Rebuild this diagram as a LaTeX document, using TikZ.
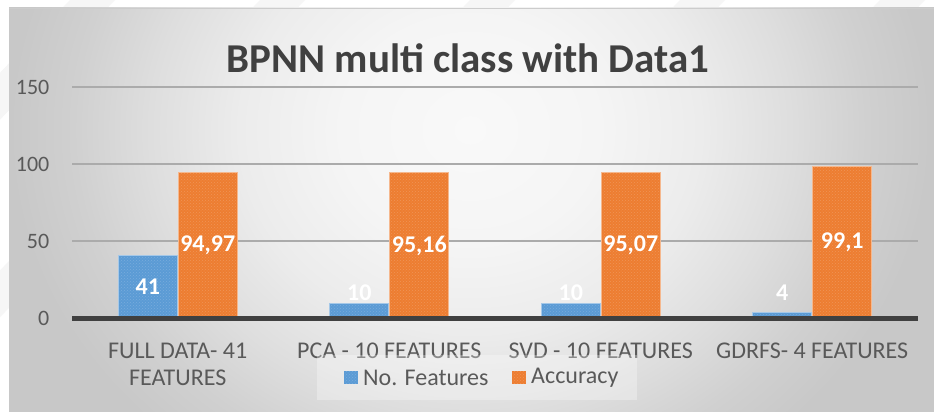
\documentclass[tikz,border=0pt]{standalone}
\usepackage{fontspec}
\setmainfont{Carlito}
\usetikzlibrary{patterns}

\definecolor{txtgray}{HTML}{595959}
\definecolor{titlegray}{HTML}{404040}
\definecolor{gridgray}{HTML}{ABABAB}
\definecolor{axisgray}{HTML}{404040}
\definecolor{barblue}{HTML}{5B9BD5}
\definecolor{barorange}{HTML}{ED7D31}
\definecolor{bga}{HTML}{F9F9F9}
\definecolor{bgb}{HTML}{F5F5F5}
\definecolor{bgc}{HTML}{ECECEC}
\definecolor{bgd}{HTML}{DEDEDE}
\definecolor{bge}{HTML}{D0D0D0}
\definecolor{bgf}{HTML}{C8C8C8}

% soft radial background: bright centre, darker rim
\pgfdeclareradialshading{chartbg}{\pgfpoint{0bp}{0bp}}{%
  color(0bp)=(bga); color(5bp)=(bgb); color(9bp)=(bgc);
  color(12.5bp)=(bgd); color(15.5bp)=(bge); color(18bp)=(bgf); color(50bp)=(bgf)}

\tikzset{
  ticklabel/.style={anchor=east, text=txtgray, font=\fontsize{22}{24}\selectfont, inner sep=0pt},
  catlabel/.style={anchor=base, text=txtgray, font=\fontsize{24}{26}\selectfont, inner sep=0pt},
  legendlabel/.style={anchor=west, text=txtgray, font=\fontsize{24}{26}\selectfont, inner sep=0pt},
  vallabel/.style={text=white, font=\fontsize{24}{26}\selectfont\bfseries, inner sep=0pt},
  gridline/.style={draw=gridgray, line width=2pt},
  texture/.style={pattern=crosshatch dots, pattern color=white, opacity=0.18},
}

\begin{document}
\begin{tikzpicture}[x=1pt, y=-1pt]
  \useasboundingbox (0,0) rectangle (934,412);
  \fill[white] (0,0) rectangle (934,412);

  % faint diagonal bands in the white margin
  \begin{scope}
    \clip (0,0) -- (934,0) -- (934,8) -- (9,8) -- (9,412) -- (0,412) -- cycle;
    \foreach \s in {70,260,470,680,880}
      \fill[gray!7] (\s,0) -- (\s+45,0) -- (\s-455,520) -- (\s-500,520) -- cycle;
  \end{scope}

  % chart area with radial background, centred near the title
  \begin{scope}
    \clip (9,8) rectangle (934,412);
    \shade[shading=chartbg] (-170,-434) rectangle (1110,694);
  \end{scope}
  \draw[gray!40, line width=1pt] (9,8.5) -- (934,8.5);

  % title
  \node[anchor=base, text=titlegray, inner sep=0pt,
        font=\fontsize{41}{44}\selectfont\bfseries] (title) at (468,73) {BPNN multi class with Data1};

  % grid lines and value axis labels
  \foreach \y in {241.35, 164.2, 87.05}
    \draw[gridline] (72,\y) -- (918,\y);
  \node[ticklabel] (t150) at (49.5,87.05) {150};
  \node[ticklabel] (t100) at (49.5,164.2) {100};
  \node[ticklabel] (t50) at (49.5,241.35) {50};
  \node[ticklabel] (t0) at (49.5,318.5) {0};

  % bars: value v has height v*1.543
  \foreach \c/\b/\o in {177.75/41/94.97, 389.25/10/95.16, 600.75/10/95.07, 812.25/4/99.1} {
    \fill[barblue] (\c-60,318.5) rectangle (\c,318.5-\b*1.543);
    \fill[texture] (\c-60,318.5) rectangle (\c,318.5-\b*1.543);
    \draw[barblue!55!white, line width=0.8pt] (\c-59.6,318.5) -- (\c-59.6,318.9-\b*1.543) -- (\c-0.4,318.9-\b*1.543) -- (\c-0.4,318.5);
    \fill[barorange] (\c,318.5) rectangle (\c+60,318.5-\o*1.543);
    \fill[texture] (\c,318.5) rectangle (\c+60,318.5-\o*1.543);
    \draw[barorange!55!white, line width=0.8pt] (\c+0.4,318.5) -- (\c+0.4,318.9-\o*1.543) -- (\c+59.6,318.9-\o*1.543) -- (\c+59.6,318.5);
  }

  % category axis
  \draw[axisgray, line width=4.3pt] (72,318.5) -- (918,318.5);

  % data labels
  \node[vallabel] (v1a) at (147.75,287) {41};
  \node[vallabel] (v1b) at (207.75,245.5) {94,97};
  \node[vallabel] (v2a) at (359.25,293) {10};
  \node[vallabel] (v2b) at (419.25,245.5) {95,16};
  \node[vallabel] (v3a) at (570.75,293) {10};
  \node[vallabel] (v3b) at (630.75,245.5) {95,07};
  \node[vallabel] (v4a) at (782.25,293) {4};
  \node[vallabel] (v4b) at (842.25,242) {99,1};

  % category labels
  \node[catlabel] (c1a) at (177.75,358) {FULL DATA- 41};
  \node[catlabel] (c1b) at (177.75,385) {FEATURES};
  \node[catlabel] (c2) at (389.25,358) {PCA - 10 FEATURES};
  \node[catlabel] (c3) at (600.75,358) {SVD - 10 FEATURES};
  \node[catlabel] (c4) at (812.25,358) {GDRFS- 4 FEATURES};

  % legend
  \fill[white, opacity=0.3] (317,355) rectangle (637,400);
  \fill[barblue] (344,371) rectangle (358,384);
  \fill[texture] (344,371) rectangle (358,384);
  \node[legendlabel] (lg1) at (363,377.5) {No. Features};
  \fill[barorange] (512,371) rectangle (526,384);
  \fill[texture] (512,371) rectangle (526,384);
  \node[legendlabel] (lg2) at (531,377.5) {Accuracy};
\end{tikzpicture}
\end{document}
